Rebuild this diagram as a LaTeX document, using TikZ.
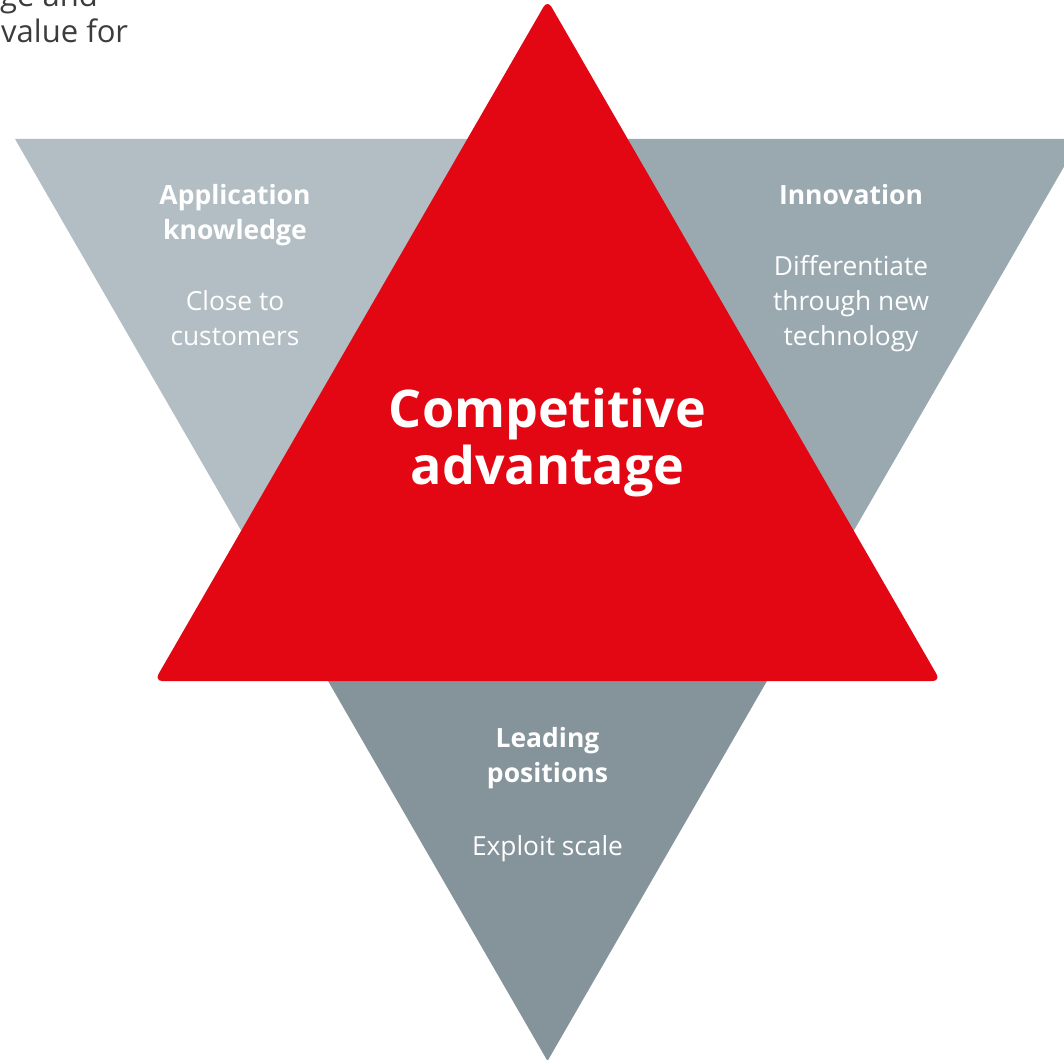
\documentclass[tikz,border=0pt]{standalone}
\usepackage{fontspec}
\setmainfont{Open Sans}
\definecolor{starred}{HTML}{E30613}
\definecolor{greyleft}{HTML}{B3BEC4}
\definecolor{greyright}{HTML}{9AA9B0}
\definecolor{greybottom}{HTML}{85939B}
\definecolor{bodytext}{HTML}{3C3C3B}

\begin{document}
\begin{tikzpicture}[x=1pt,y=-1pt,
	head/.style={text=white, anchor=base, align=center, font=\fontsize{26.5}{35}\selectfont\bfseries},
	sub/.style={text=white, anchor=base, align=center, font=\fontsize{26.3}{35}\selectfont}]
		\useasboundingbox (0,0) rectangle (1064,1059);
		\clip (0,0) rectangle (1064,1059);

		% big grey triangle, in three parts
		\fill[greyleft] (15,139) -- (547.5,139) -- (547.5,446) -- (281.25,600) -- cycle;
		\fill[greyright] (1080,139) -- (547.5,139) -- (547.5,446) -- (813.75,600) -- cycle;
		\fill[greybottom] (547.5,1061) -- (281.25,600) -- (547.5,446) -- (813.75,600) -- cycle;

		% red triangle
		\fill[starred, rounded corners=8pt] (547.5,0) -- (940.5,681) -- (154.5,681) -- cycle;

		% cut text from the page
		\node[anchor=base east, text=bodytext, font=\fontsize{31}{36}\selectfont, inner sep=0pt] (prev) at (98,7) {ge and};
		\node[anchor=base west, text=bodytext, font=\fontsize{31}{36}\selectfont, inner sep=0pt] (valuefor) at (1,43) {value for};

		\node[head] (appl) at (235,240) {Application\\knowledge};
		\node[sub] (close) at (235,345) {Close to\\customers};
		\node[head] (innov) at (851,205) {Innovation};
		\node[sub] (diff) at (851,345) {Differentiate\\through new\\technology};
		\node[anchor=base, align=center, text=white, font=\fontsize{52}{57}\selectfont\bfseries] (comp) at (547.5,484) {Competitive\\advantage};
		\node[head] (lead) at (547.5,782) {Leading\\positions};
		\node[sub] (expl) at (547.5,855) {Exploit scale};
\end{tikzpicture}
\end{document}
